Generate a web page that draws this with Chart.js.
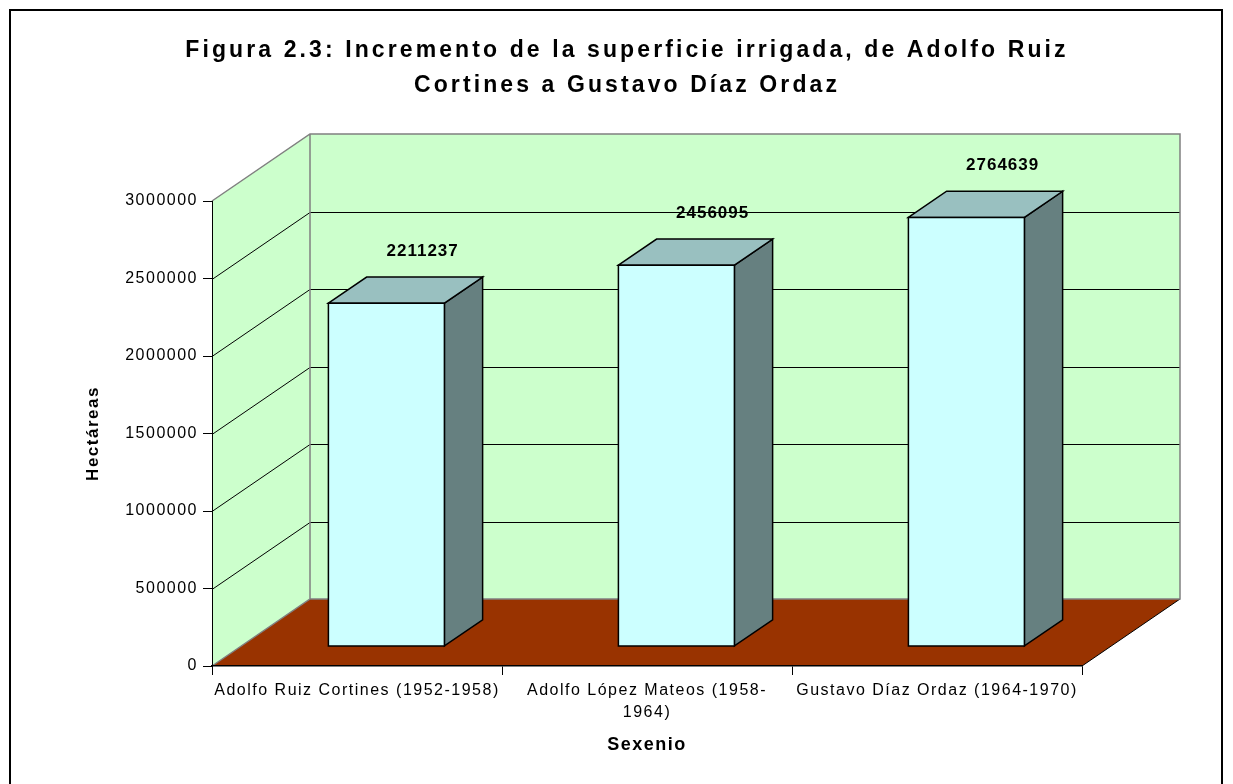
<!DOCTYPE html>
<html>
<head>
<meta charset="utf-8">
<script src="https://cdn.jsdelivr.net/npm/chart.js@4.4.1/dist/chart.umd.min.js"></script>
<style>
    html, body { margin: 0; padding: 0; background: #fff; }
</style>
</head>
<body>
<canvas id="irrigadaChart" width="1233" height="784"></canvas>
<script>
const sexenios = [
    ['Adolfo Ruiz Cortines (1952-1958)'],
    ['Adolfo López Mateos (1958-', '1964)'],
    ['Gustavo Díaz Ordaz (1964-1970)']
];
const hectareas = [2211237, 2456095, 2764639];
const yTicks = [0, 500000, 1000000, 1500000, 2000000, 2500000, 3000000];
const titleLines = [
    'Figura 2.3: Incremento de la superficie irrigada, de Adolfo Ruiz',
    'Cortines a Gustavo Díaz Ordaz'
];

// depth of the 3d box (offset of back wall from the front plane)
const DX = 98, DY = -67;
const BAR_FRONT = 0.3, BAR_BACK = 0.69;
const FONT = 'Arial, "Liberation Sans", sans-serif';

function poly(ctx, pts) {
    ctx.beginPath();
    ctx.moveTo(pts[0][0], pts[0][1]);
    for (let i = 1; i < pts.length; i++) ctx.lineTo(pts[i][0], pts[i][1]);
    ctx.closePath();
}

const box3d = {
    id: 'box3d',
    beforeDraw(chart) {
        const { ctx, chartArea: a, scales: { y } } = chart;
        ctx.save();
        ctx.fillStyle = '#fff';
        ctx.fillRect(0, 0, chart.width, chart.height);

        // walls
        ctx.fillStyle = '#CCFFCC';
        poly(ctx, [[a.left, a.top], [a.left + DX, a.top + DY], [a.left + DX, a.bottom + DY], [a.left, a.bottom]]);
        ctx.fill();
        ctx.fillRect(a.left + DX, a.top + DY, a.right - a.left, a.bottom - a.top);

        // gridlines on left and back wall
        ctx.strokeStyle = '#000';
        ctx.lineWidth = 1;
        y.ticks.forEach(t => {
            if (t.value === y.min || t.value === y.max) return;
            const py = Math.round(y.getPixelForValue(t.value)) + 0.5;
            ctx.beginPath();
            ctx.moveTo(a.left, py);
            ctx.lineTo(a.left + DX, py + DY);
            ctx.lineTo(a.right + DX, py + DY);
            ctx.stroke();
        });

        // floor
        ctx.fillStyle = '#993300';
        poly(ctx, [[a.left, a.bottom], [a.right, a.bottom], [a.right + DX, a.bottom + DY], [a.left + DX, a.bottom + DY]]);
        ctx.fill();
        ctx.beginPath();
        ctx.moveTo(a.right, a.bottom);
        ctx.lineTo(a.right + DX, a.bottom + DY);
        ctx.stroke();

        // grey edges of the box
        ctx.strokeStyle = '#808080';
        ctx.lineWidth = 1.5;
        ctx.beginPath();
        ctx.moveTo(a.left, a.top);
        ctx.lineTo(a.left + DX, a.top + DY);
        ctx.lineTo(a.right + DX, a.top + DY);
        ctx.lineTo(a.right + DX, a.bottom + DY);
        ctx.lineTo(a.left + DX, a.bottom + DY);
        ctx.lineTo(a.left, a.bottom);
        ctx.moveTo(a.left + DX, a.top + DY);
        ctx.lineTo(a.left + DX, a.bottom + DY);
        ctx.stroke();
        ctx.restore();

        ctx.letterSpacing = '1.5px';
    },
    afterDatasetsDraw(chart) {
        const { ctx, scales: { y } } = chart;
        const meta = chart.getDatasetMeta(0);
        const values = chart.data.datasets[0].data;
        const y0 = y.getPixelForValue(0);
        const ddx = (BAR_BACK - BAR_FRONT) * DX, ddy = (BAR_BACK - BAR_FRONT) * DY;
        ctx.save();
        ctx.strokeStyle = '#000';
        ctx.lineWidth = 1.5;
        meta.data.forEach((bar, i) => {
            const l = bar.x - bar.width / 2 + BAR_FRONT * DX;
            const r = l + bar.width;
            const t = y.getPixelForValue(values[i]) + BAR_FRONT * DY;
            const b = y0 + BAR_FRONT * DY;

            ctx.fillStyle = '#668080';
            poly(ctx, [[r, t], [r + ddx, t + ddy], [r + ddx, b + ddy], [r, b]]);
            ctx.fill(); ctx.stroke();

            ctx.fillStyle = '#99C0C0';
            poly(ctx, [[l, t], [l + ddx, t + ddy], [r + ddx, t + ddy], [r, t]]);
            ctx.fill(); ctx.stroke();

            ctx.fillStyle = '#CCFFFF';
            poly(ctx, [[l, t], [r, t], [r, b], [l, b]]);
            ctx.fill(); ctx.stroke();

            // value label
            ctx.fillStyle = '#000';
            ctx.font = 'bold 17px ' + FONT;
            ctx.letterSpacing = '1px';
            ctx.textAlign = 'center';
            ctx.textBaseline = 'middle';
            ctx.fillText(String(values[i]), bar.x + BAR_BACK * DX - 2, t + ddy - 26);
        });
        ctx.restore();
    },
    afterDraw(chart) {
        const { ctx } = chart;
        ctx.save();
        ctx.fillStyle = '#000';
        ctx.font = 'bold 23px ' + FONT;
        ctx.letterSpacing = '3.1px';
        ctx.textAlign = 'center';
        ctx.textBaseline = 'alphabetic';
        ctx.fillText(titleLines[0], 627, 57);
        ctx.fillText(titleLines[1], 627, 92);

        // chart border
        ctx.strokeStyle = '#000';
        ctx.lineWidth = 2;
        ctx.strokeRect(10, 10, 1212, 800);
        ctx.restore();
    }
};

const ctx = document.getElementById('irrigadaChart').getContext('2d');
const irrigadaChart = new Chart(ctx, {
    type: 'bar',
    data: {
        labels: sexenios,
        datasets: [{
            label: 'Hectáreas',
            data: hectareas,
            backgroundColor: 'rgba(0,0,0,0)',
            borderWidth: 0,
            categoryPercentage: 1,
            barPercentage: 0.4
        }]
    },
    options: {
        responsive: false,
        animation: false,
        events: [],
        layout: { padding: { left: 0, right: 151, top: 201, bottom: 0 } },
        plugins: {
            legend: { display: false },
            tooltip: { enabled: false },
            title: { display: false }
        },
        scales: {
            x: {
                grid: { offset: true, drawOnChartArea: false, color: '#000', tickLength: 9 },
                border: { color: '#000', width: 1.5 },
                ticks: {
                    color: '#000',
                    font: { family: FONT, size: 16, lineHeight: 1.4 },
                    maxRotation: 0,
                    autoSkip: false,
                    padding: 4
                },
                title: {
                    display: true,
                    text: 'Sexenio',
                    color: '#000',
                    font: { family: FONT, size: 18, weight: 'bold' },
                    padding: { top: 0, bottom: 28 }
                },
                afterFit(scale) { scale.height = 118; }
            },
            y: {
                min: 0,
                max: 3000000,
                afterBuildTicks(scale) { scale.ticks = yTicks.map(v => ({ value: v })); },
                grid: { drawOnChartArea: false, color: '#000', tickLength: 9 },
                border: { color: '#000', width: 1 },
                ticks: {
                    color: '#000',
                    font: { family: FONT, size: 16 },
                    padding: 5,
                    callback: v => String(v)
                },
                title: {
                    display: true,
                    text: 'Hectáreas',
                    color: '#000',
                    font: { family: FONT, size: 17, weight: 'bold' },
                    padding: { top: 83, bottom: 0 }
                },
                afterFit(scale) { scale.width = 212; }
            }
        }
    },
    plugins: [box3d]
});
</script>
</body>
</html>
